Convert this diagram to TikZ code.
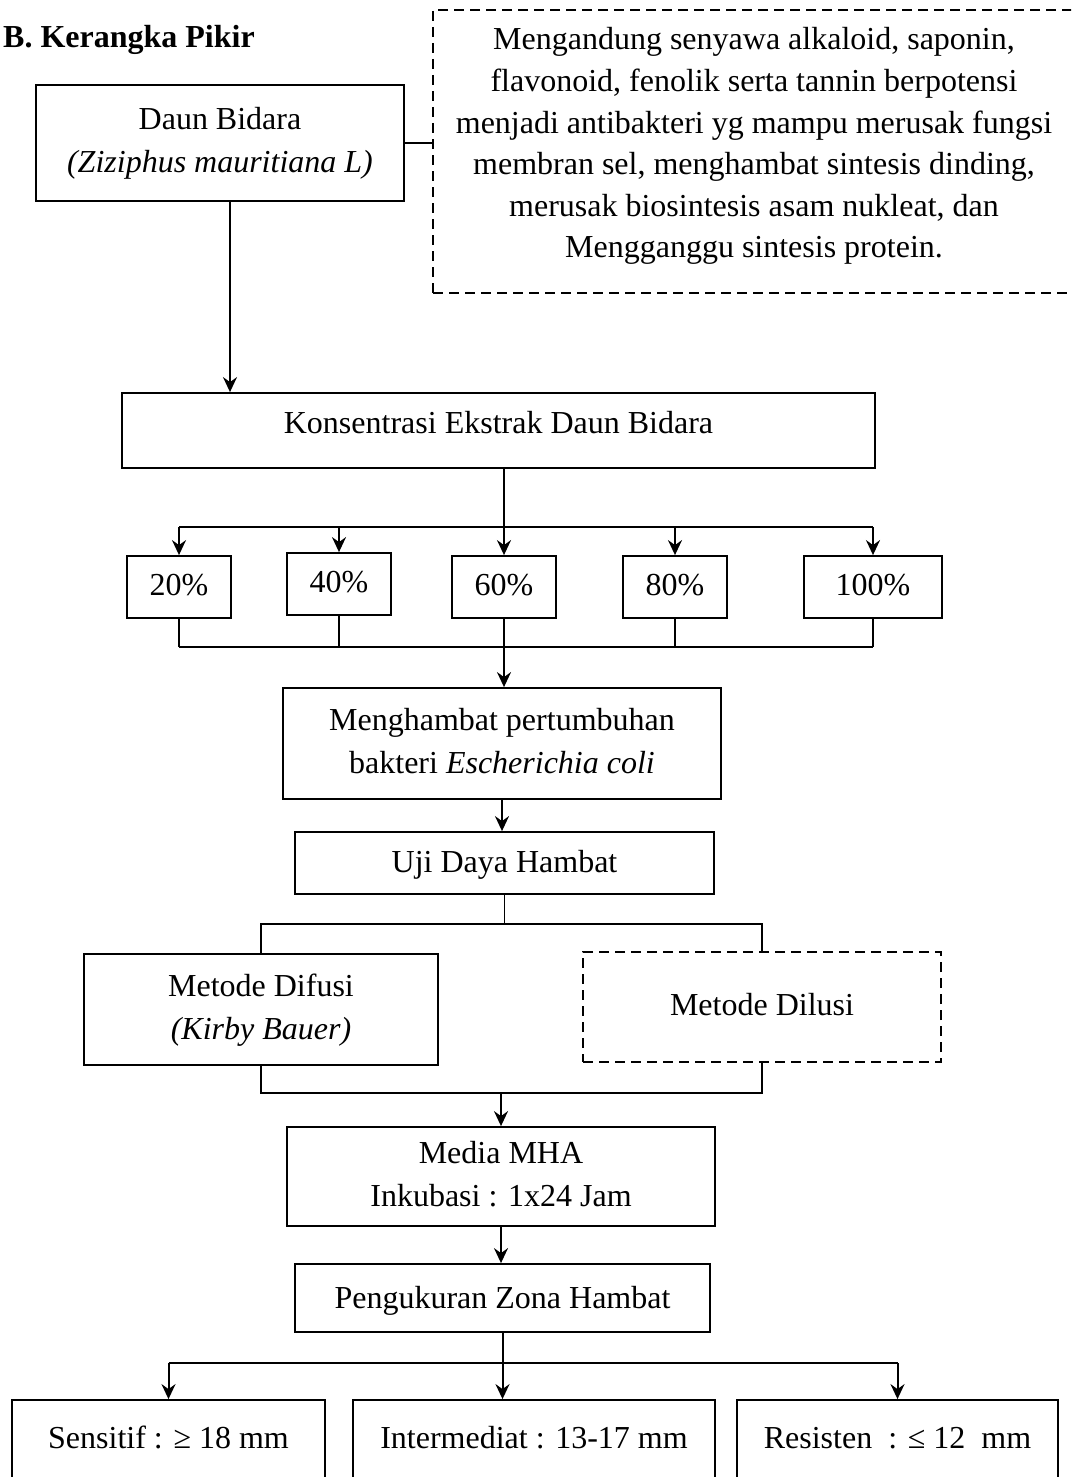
\documentclass[tikz,border=0pt]{standalone}
\usepackage{fontspec}
\setmainfont{Liberation Serif}
\usepackage{tikz}
\usetikzlibrary{arrows.meta}

\begin{document}
\begin{tikzpicture}[x=1pt,y=-1pt,>={Stealth[length=15pt,width=14pt,inset=5pt]},
font=\fontsize{32}{43}\selectfont,
box/.style={draw,line width=1.8pt,inner sep=0pt,align=flush center,text height=22pt,text depth=6pt},
twoline/.style={box,text depth=48pt},
dbox/.style={box,dash pattern=on 10pt off 6pt},
ln/.style={line width=1.6pt},
arr/.style={line width=2pt,->}]
\useasboundingbox(0,0)rectangle(1071,1477);
\clip(0,0)rectangle(1071,1477);
\node[anchor=base west,inner sep=0pt](title)at(3,48){\bfseries B. Kerangka Pikir};
\node[twoline,minimum width=368pt,minimum height=116pt,text width=368pt](daun)at(220,143)
{Daun Bidara\\\textit{(Ziziphus mauritiana L)}};
\node[dbox,minimum width=642pt,minimum height=283pt,text width=642pt,
font=\fontsize{32}{41.6}\selectfont,text depth=225pt](info)at(754,151.5)
{Mengandung senyawa alkaloid, saponin,\\flavonoid, fenolik serta tannin berpotensi\\
menjadi antibakteri yg mampu merusak fungsi\\membran sel, menghambat sintesis dinding,\\
merusak biosintesis asam nukleat, dan\\Mengganggu sintesis protein.};
\node[box,minimum width=753pt,minimum height=75pt,text depth=17pt](konsen)at(498.5,430.5)
{Konsentrasi Ekstrak Daun Bidara};
%% konsentrasi
\node[box,minimum width=104pt,minimum height=62pt](p20)at(179,587){20\%};
\node[box,minimum width=104pt,minimum height=62pt](p40)at(339,584){40\%};
\node[box,minimum width=104pt,minimum height=62pt](p60)at(504,587){60\%};
\node[box,minimum width=104pt,minimum height=62pt](p80)at(675,587){80\%};
\node[box,minimum width=138pt,minimum height=62pt](p100)at(873,587){100\%};
\node[twoline,minimum width=438pt,minimum height=111pt,text width=438pt](mh)at(502,743.5)
{Menghambat pertumbuhan\\bakteri \textit{Escherichia coli}};
\node[box,minimum width=419pt,minimum height=62pt,text depth=4pt](uji)at(504.5,863){Uji Daya Hambat};
%% metode
\node[twoline,minimum width=354pt,minimum height=111pt,text width=354pt](difusi)at(261,1009.5)
{Metode Difusi\\\textit{(Kirby Bauer)}};
\node[dbox,minimum width=358pt,minimum height=110pt](dilusi)at(762,1007){Metode Dilusi};
\node[twoline,minimum width=428pt,minimum height=99pt,text width=428pt](media)at(501,1176.5)
{Media MHA\\Inkubasi : 1x24 Jam};
\node[box,minimum width=415pt,minimum height=68pt,text depth=2pt](peng)at(502.5,1298)
{Pengukuran Zona Hambat};
%% zona hambat
\node[box,minimum width=313pt,minimum height=96pt,text depth=22pt](sens)at(168.5,1448)
{Sensitif : ≥ 18 mm};
\node[box,minimum width=362pt,minimum height=96pt,text depth=22pt](inter)at(534,1448)
{Intermediat : 13-17 mm};
\node[box,minimum width=321pt,minimum height=96pt,text depth=22pt](resis)at(897.5,1448)
{Resisten~ : ≤ 12~ mm};

\draw[ln](daun.east)--(daun.east-|info.west);
\draw[arr]([xshift=10pt]daun.south)--([xshift=10pt]daun.south|-konsen.north);
\draw[arr](p60.north|-konsen.south)--(p60.north);
\coordinate(split)at(504,527);
\draw[ln](p20.north|-split)--(p100.north|-split);
\foreach \n in {p20,p40,p80,p100}
\draw[arr](\n.north|-split)--(\n.north);
\coordinate(join)at(504,647);
\foreach \n in {p20,p40,p80,p100}
\draw[ln](\n.south)--(\n.south|-join);
\draw[ln](p20.south|-join)--(p100.south|-join);
\draw[arr](p60.south)--(p60.south|-mh.north);
\draw[arr](mh.south)--(mh.south|-uji.north);
\coordinate(fork)at(505,924);
\draw[ln](uji.south)--(uji.south|-fork);
\draw[ln](difusi.north)|-(dilusi.north|-fork)--(dilusi.north);
\coordinate(merge)at(501,1093);
\draw[ln](difusi.south)|-(dilusi.south|-merge)--(dilusi.south);
\draw[arr](media.north|-merge)--(media.north);
\draw[arr](media.south)--(media.south|-peng.north);
\coordinate(split2)at(502,1363);
\draw[arr](peng.south)--(peng.south|-inter.north);
\draw[ln](sens.north|-split2)--(resis.north|-split2);
\draw[arr](sens.north|-split2)--(sens.north);
\draw[arr](resis.north|-split2)--(resis.north);
\end{tikzpicture}
\end{document}
